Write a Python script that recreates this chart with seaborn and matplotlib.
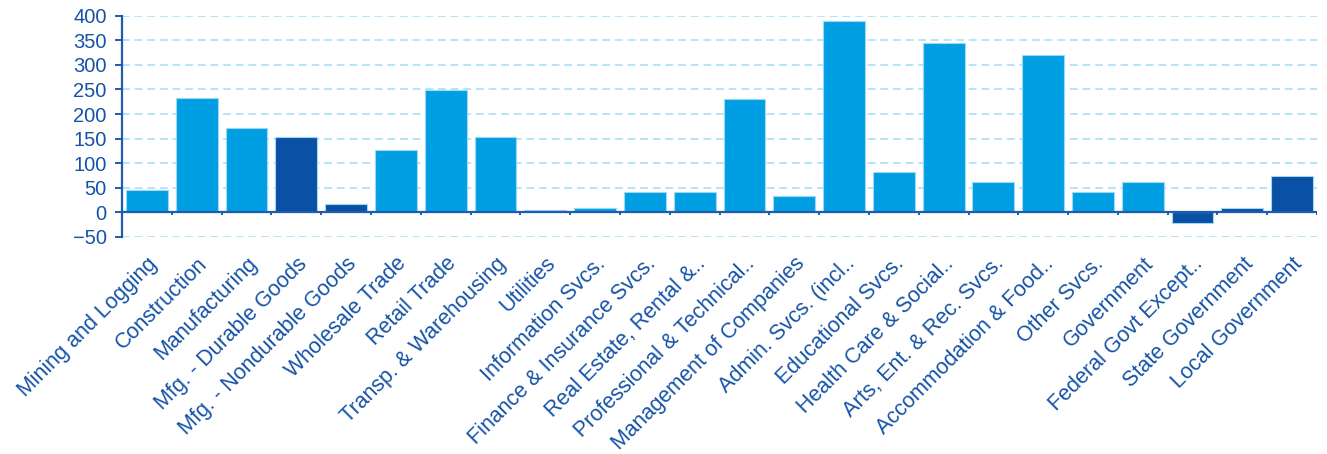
import numpy as np
import pandas as pd
import matplotlib
matplotlib.use('Agg')
import matplotlib.pyplot as plt
import seaborn as sns

# Industry categories and values
industries = [
    'Mining and Logging', 'Construction', 'Manufacturing', 'Mfg. - Durable Goods',
    'Mfg. - Nondurable Goods', 'Wholesale Trade', 'Retail Trade', 'Transp. & Warehousing',
    'Utilities', 'Information Svcs.', 'Finance & Insurance Svcs.', 'Real Estate, Rental &..',
    'Professional & Technical..', 'Management of Companies', 'Admin. Svcs. (incl..',
    'Educational Svcs.', 'Health Care & Social..', 'Arts, Ent. & Rec. Svcs.',
    'Accommodation & Food..', 'Other Svcs.', 'Government', 'Federal Govt Except..',
    'State Government', 'Local Government',
]
values = [45, 232, 171, 154, 16, 126, 249, 154, 4, 8, 40, 40, 231, 32, 390,
          81, 345, 61, 321, 40, 61, -22, 9, 73]
# sub-sectors drawn in the darker blue
subsector = ['Mfg. - Durable Goods', 'Mfg. - Nondurable Goods',
             'Federal Govt Except..', 'State Government', 'Local Government']

df = pd.DataFrame({'industry': industries, 'value': values})
df['group'] = np.where(df['industry'].isin(subsector), 'sub', 'main')

light = '#009FE3'
dark = '#0A50A4'
text_blue = '#1553A6'
grid_blue = '#B5E4F8'

sns.set_style('white')
plt.rcParams['font.family'] = ['Liberation Sans', 'DejaVu Sans']

fig = plt.figure(figsize=(13.27, 4.54), dpi=100)
ax = fig.add_axes([0.092, 0.479, 0.9005, 0.4858])

sns.barplot(data=df, x='industry', y='value', hue='group',
            palette={'main': light, 'sub': dark}, dodge=False, legend=False,
            saturation=1, width=0.84, edgecolor='#9ED8F2', linewidth=0.8,
            ax=ax, zorder=3)

ax.set_ylim(-50, 400)
ax.set_xlim(-0.5, len(industries) - 0.5)
ax.set_yticks(np.arange(-50, 401, 50))
for yv in np.arange(-50, 401, 50):
    if yv != 0:
        ax.axhline(yv, color=grid_blue, lw=1.4, ls=(0, (4, 2.5)), zorder=1)

# zero line with category separators
ax.axhline(0, color='#1F5BAE', lw=1.6, zorder=4)
ax.vlines(np.arange(len(industries) + 1) - 0.5, -7, 0, color='#1F5BAE', lw=1.4, zorder=4)

for s in ['top', 'right', 'bottom']:
    ax.spines[s].set_visible(False)
ax.spines['left'].set_color('#1F5BAE')
ax.spines['left'].set_linewidth(1.6)

ax.tick_params(axis='y', colors='#1F5BAE', length=5, width=1.4, labelsize=14.5,
               labelcolor=text_blue, pad=6, left=True)

ax.set_xticks(np.arange(len(industries)))
ax.set_xticklabels(industries)
ax.tick_params(axis='x', length=0, pad=12, labelsize=15.5, labelcolor=text_blue)
plt.setp(ax.get_xticklabels(), rotation=45, ha='right', va='top', rotation_mode='anchor')

ax.set_xlabel('')
ax.set_ylabel('')

plt.savefig('out.png', dpi=100)
plt.close()
